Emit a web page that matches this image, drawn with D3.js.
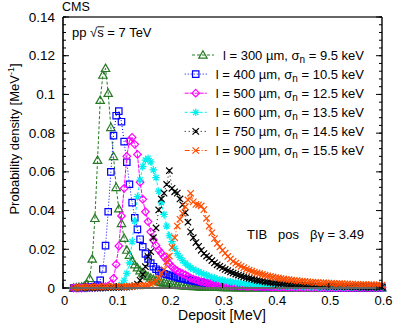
<!DOCTYPE html>
<html>
<head>
<meta charset="utf-8">
<style>
  body { margin: 0; background: #fff; }
  svg { display: block; font-family: "Liberation Sans", Arial, Helvetica, sans-serif; }
</style>
</head>
<body>
<div id="chart"></div>
<script src="https://d3js.org/d3.v7.min.js"></script>
<script>
  // histogram bin centres (MeV): 0.020 ... 0.600, step 0.005
  const deposit = d3.range(117).map(i => +(0.02 + i * 0.005).toFixed(3));

  // probability density [MeV^-1], one value per bin
  const l300 = [
    0, 0.0002, 0.0004, 0.0006, 0.001, 0.002, 0.005, 0.015, 0.036, 0.066,
    0.097, 0.110, 0.1135, 0.1006, 0.083, 0.068, 0.052, 0.041, 0.0334, 0.0257,
    0.0196, 0.017, 0.014, 0.012, 0.0105, 0.009, 0.0078, 0.0068, 0.006, 0.0052,
    0.0045, 0.0038, 0.0033, 0.0029, 0.0026, 0.0023, 0.002, 0.0018, 0.0016, 0.0014,
    0.0013, 0.0012, 0.0011, 0.001, 0.0009, 0.0008, 0.0008, 0.0007, 0.0006, 0.0006,
    0.0005, 0.0005, 0.0005, 0.0004, 0.0004, 0.0004, 0.0003, 0.0003, 0.0003, 0.0003,
    0.0003, 0.0002, 0.0002, 0.0002, 0.0002, 0.0002, 0.0002, 0.0002, 0.0002, 0.0002,
    0.0002, 0.0001, 0.0001, 0.0001, 0.0001, 0.0001, 0.0001, 0.0001, 0.0001, 0.0001,
    0.0001, 0.0001, 0.0001, 0.0001, 0.0001, 0.0001, 0.0001, 0.0001, 0.0001, 0.0001,
    0.0001, 0.0001, 0.0001, 0.0001, 0.0001, 0.0001, 0.0001, 0.0001, 0.0001, 0.0001,
    0.0001, 0.0001, 0.0001, 0.0001, 0.0001, 0.0001, 0.0001, 0.0001, 0.0001, 0.0001,
    0.0001, 0.0001, 0.0001, 0.0001, 0.0001, 0.0001, 0.0001
  ];
  const l400 = [
    0, 0, 0.0001, 0.0001, 0.0002, 0.0003, 0.0004, 0.0005, 0.0008, 0.0015,
    0.004, 0.0098, 0.0219, 0.0394, 0.060, 0.0787, 0.089, 0.0914, 0.0859, 0.0756,
    0.065, 0.0536, 0.0441, 0.0363, 0.0303, 0.0252, 0.0213, 0.0176, 0.015, 0.0129,
    0.011, 0.0097, 0.0088, 0.008, 0.0074, 0.007, 0.0066, 0.0062, 0.0058, 0.0055,
    0.0051, 0.0048, 0.0045, 0.0042, 0.0039, 0.0037, 0.0034, 0.0032, 0.003, 0.0028,
    0.0026, 0.0024, 0.0023, 0.0021, 0.002, 0.0019, 0.0018, 0.0017, 0.0016, 0.0015,
    0.0014, 0.0013, 0.0013, 0.0012, 0.0011, 0.0011, 0.001, 0.001, 0.0009, 0.0009,
    0.0008, 0.0008, 0.0008, 0.0007, 0.0007, 0.0007, 0.0006, 0.0006, 0.0006, 0.0006,
    0.0005, 0.0005, 0.0005, 0.0005, 0.0005, 0.0005, 0.0004, 0.0004, 0.0004, 0.0004,
    0.0004, 0.0004, 0.0004, 0.0004, 0.0003, 0.0003, 0.0003, 0.0003, 0.0003, 0.0003,
    0.0003, 0.0003, 0.0003, 0.0003, 0.0003, 0.0003, 0.0003, 0.0003, 0.0003, 0.0003,
    0.0003, 0.0003, 0.0003, 0.0003, 0.0003, 0.0003, 0.0003
  ];
  const l500 = [
    0, 0, 0, 0, 0.0001, 0.0001, 0.0002, 0.0002, 0.0002, 0.0003,
    0.0004, 0.0005, 0.0007, 0.001, 0.002, 0.005, 0.0122, 0.0217, 0.0372, 0.0515,
    0.068, 0.076, 0.0778, 0.0742, 0.069, 0.0546, 0.0458, 0.0394, 0.0343, 0.029,
    0.0248, 0.022, 0.0196, 0.018, 0.0162, 0.0145, 0.0125, 0.011, 0.0098, 0.0088,
    0.008, 0.0074, 0.0068, 0.006, 0.0052, 0.0047, 0.0042, 0.0038, 0.0033, 0.003,
    0.0028, 0.0026, 0.0024, 0.0022, 0.002, 0.0018, 0.0017, 0.0016, 0.0015, 0.0014,
    0.0013, 0.0012, 0.0011, 0.001, 0.001, 0.0009, 0.0009, 0.0008, 0.0008, 0.0007,
    0.0007, 0.0007, 0.0006, 0.0006, 0.0006, 0.0005, 0.0005, 0.0005, 0.0005, 0.0004,
    0.0004, 0.0004, 0.0004, 0.0004, 0.0003, 0.0003, 0.0003, 0.0003, 0.0003, 0.0003,
    0.0003, 0.0003, 0.0002, 0.0002, 0.0002, 0.0002, 0.0002, 0.0002, 0.0002, 0.0002,
    0.0002, 0.0002, 0.0002, 0.0002, 0.0002, 0.0002, 0.0002, 0.0002, 0.0002, 0.0002,
    0.0002, 0.0002, 0.0002, 0.0002, 0.0002, 0.0002, 0.0002
  ];
  const l600 = [
    0, 0, 0, 0, 0, 0, 0.0001, 0.0001, 0.0001, 0.0002,
    0.0002, 0.0002, 0.0003, 0.0003, 0.0004, 0.0005, 0.0006, 0.001, 0.0018, 0.004,
    0.0076, 0.013, 0.0239, 0.0346, 0.0472, 0.0558, 0.0627, 0.0661, 0.067, 0.0652,
    0.061, 0.057, 0.05, 0.044, 0.038, 0.032, 0.027, 0.024, 0.0205, 0.0178,
    0.0158, 0.0142, 0.0128, 0.0116, 0.0105, 0.0097, 0.009, 0.0083, 0.0077, 0.0071,
    0.0066, 0.006, 0.0055, 0.0051, 0.0047, 0.0043, 0.004, 0.0037, 0.0034, 0.0032,
    0.003, 0.0028, 0.0026, 0.0024, 0.0022, 0.0021, 0.002, 0.0019, 0.0018, 0.0017,
    0.0016, 0.0015, 0.0014, 0.0013, 0.0013, 0.0012, 0.0011, 0.0011, 0.001, 0.001,
    0.0009, 0.0009, 0.0009, 0.0008, 0.0008, 0.0008, 0.0008, 0.0007, 0.0007, 0.0007,
    0.0007, 0.0006, 0.0006, 0.0006, 0.0006, 0.0006, 0.0005, 0.0005, 0.0005, 0.0005,
    0.0005, 0.0005, 0.0005, 0.0004, 0.0004, 0.0004, 0.0004, 0.0004, 0.0004, 0.0004,
    0.0004, 0.0004, 0.0004, 0.0003, 0.0003, 0.0003, 0.0003
  ];
  const l750 = [
    0, 0, 0, 0, 0, 0, 0, 0.0001, 0.0001, 0.0001,
    0.0001, 0.0001, 0.0002, 0.0002, 0.0002, 0.0003, 0.0003, 0.0003, 0.0004, 0.0004,
    0.0005, 0.0006, 0.0008, 0.0012, 0.002, 0.004, 0.007, 0.011, 0.0162, 0.0188,
    0.026, 0.031, 0.0403, 0.046, 0.049, 0.0535, 0.0606, 0.0515, 0.0497, 0.049,
    0.046, 0.043, 0.039, 0.034, 0.029, 0.026, 0.0235, 0.0215, 0.0195, 0.0178,
    0.0165, 0.0155, 0.0142, 0.013, 0.012, 0.0112, 0.0104, 0.0096, 0.009, 0.0083,
    0.0077, 0.0072, 0.0067, 0.0062, 0.0058, 0.0054, 0.005, 0.0047, 0.0043, 0.004,
    0.0037, 0.0035, 0.0032, 0.003, 0.0028, 0.0026, 0.0025, 0.0023, 0.0022, 0.0021,
    0.002, 0.0019, 0.0018, 0.0017, 0.0016, 0.0015, 0.0015, 0.0014, 0.0013, 0.0013,
    0.0012, 0.0012, 0.0011, 0.0011, 0.001, 0.001, 0.0009, 0.0009, 0.0009, 0.0008,
    0.0008, 0.0008, 0.0007, 0.0007, 0.0007, 0.0006, 0.0006, 0.0006, 0.0006, 0.0005,
    0.0005, 0.0005, 0.0005, 0.0005, 0.0005, 0.0005, 0.0005
  ];
  const l900 = [
    0, 0.0002, 0.0003, 0.0004, 0.0005, 0.0005, 0.0006, 0.0006, 0.0005, 0.0006,
    0.0006, 0.0005, 0.0006, 0.0007, 0.0006, 0.0007, 0.0007, 0.0008, 0.0007, 0.0008,
    0.0008, 0.0009, 0.0009, 0.001, 0.001, 0.0011, 0.0012, 0.0012, 0.0015, 0.002,
    0.0027, 0.0035, 0.005, 0.0075, 0.0095, 0.0136, 0.0165, 0.021, 0.026, 0.032,
    0.0355, 0.0386, 0.042, 0.0455, 0.0489, 0.0445, 0.0432, 0.043, 0.0424, 0.0405,
    0.036, 0.032, 0.0285, 0.0255, 0.023, 0.0212, 0.0195, 0.018, 0.0163, 0.015,
    0.0138, 0.0128, 0.012, 0.0112, 0.0105, 0.0098, 0.0092, 0.0087, 0.0082, 0.0078,
    0.0074, 0.007, 0.0066, 0.0063, 0.006, 0.0057, 0.0054, 0.0052, 0.0049, 0.0047,
    0.0045, 0.0043, 0.0041, 0.004, 0.0038, 0.0036, 0.0035, 0.0034, 0.0032, 0.0031,
    0.003, 0.0029, 0.0028, 0.0027, 0.0027, 0.0026, 0.0025, 0.0024, 0.0024, 0.0023,
    0.0022, 0.0022, 0.0021, 0.0021, 0.002, 0.002, 0.0019, 0.0019, 0.0018, 0.0018,
    0.0018, 0.0017, 0.0017, 0.0016, 0.0016, 0.0016, 0.0015
  ];

  const thickness = ["300", "400", "500", "600", "750", "900"];
  const sigmaNoise = ["9.5", "10.5", "12.5", "13.5", "14.5", "15.5"];
  const xTicks = [0, 0.1, 0.2, 0.3, 0.4, 0.5, 0.6];
  const yTicks = [0, 0.02, 0.04, 0.06, 0.08, 0.1, 0.12, 0.14];

  const series = [
    { values: l300, color: "#267a26", dash: "3,2", marker: "tri" },
    { values: l400, color: "#0000ff", dash: "1,2", marker: "square" },
    { values: l500, color: "#ff00ff", dash: "4,1", marker: "diamond" },
    { values: l600, color: "#00f0f0", dash: "3,2", marker: "star" },
    { values: l750, color: "#000000", dash: "1,3", marker: "cross2" },
    { values: l900, color: "#ff4d00", dash: "5,2,1,2", marker: "cross" }
  ];

  const markerPath = {
    tri: "M0,-4.2L4.2,3.2L-4.2,3.2Z",
    square: "M-3.2,-3.2H3.2V3.2H-3.2Z",
    diamond: "M0,-3.8L3.8,0L0,3.8L-3.8,0Z",
    star: "M-3.8,0H3.8M0,-3.8V3.8M-2.7,-2.7L2.7,2.7M-2.7,2.7L2.7,-2.7",
    cross2: "M-3.2,-3.2L3.2,3.2M-3.2,3.2L3.2,-3.2M0,-1.6V1.6",
    cross: "M-3.2,-3.2L3.2,3.2M-3.2,3.2L3.2,-3.2"
  };

  const W = 407, H = 326;
  const x = d3.scaleLinear().domain([0, 0.6]).range([63, 382]);
  const y = d3.scaleLinear().domain([0, 0.14]).range([288, 17]);

  const svg = d3.select("#chart").append("svg")
    .attr("width", W).attr("height", H);

  // curves
  const line = d3.line().x(d => x(d[0])).y(d => y(d[1]));
  series.forEach(s => {
    const pts = deposit.map((d, i) => [d, s.values[i]]);
    const g = svg.append("g");
    g.append("path")
      .datum(pts)
      .attr("fill", "none")
      .attr("stroke", s.color)
      .attr("stroke-width", 1)
      .attr("stroke-dasharray", s.dash)
      .attr("d", line);
    g.selectAll("path.m").data(pts).join("path")
      .attr("class", "m")
      .attr("transform", d => `translate(${x(d[0])},${y(d[1])})`)
      .attr("d", markerPath[s.marker])
      .attr("fill", "none")
      .attr("stroke", s.color)
      .attr("stroke-width", 1.2);
  });

  // frame
  svg.append("line").attr("x1", 63).attr("x2", 382).attr("y1", 17).attr("y2", 17)
    .attr("stroke", "#666").attr("stroke-width", 2);
  svg.append("line").attr("x1", 63).attr("x2", 382).attr("y1", 288).attr("y2", 288)
    .attr("stroke", "#666").attr("stroke-width", 2);
  svg.append("line").attr("x1", 63).attr("x2", 63).attr("y1", 17).attr("y2", 289)
    .attr("stroke", "#000").attr("stroke-width", 1.6);
  svg.append("line").attr("x1", 382).attr("x2", 382).attr("y1", 17).attr("y2", 289)
    .attr("stroke", "#000").attr("stroke-width", 1.4);

  // ticks
  const yMinor = d3.range(0, 0.1401, 0.004);
  [63, 382].forEach(x0 => {
    const dir = x0 === 63 ? 1 : -1;
    svg.append("g").selectAll("line").data(yMinor).join("line")
      .attr("x1", x0).attr("x2", x0 + dir * 3)
      .attr("y1", d => y(d)).attr("y2", d => y(d))
      .attr("stroke", "#000").attr("stroke-width", 1);
    svg.append("g").selectAll("line").data(yTicks).join("line")
      .attr("x1", x0).attr("x2", x0 + dir * 6)
      .attr("y1", d => y(d)).attr("y2", d => y(d))
      .attr("stroke", "#000").attr("stroke-width", 1);
  });
  svg.append("g").selectAll("line").data(xTicks).join("line")
    .attr("x1", d => x(d)).attr("x2", d => x(d))
    .attr("y1", 288).attr("y2", 283)
    .attr("stroke", "#000").attr("stroke-width", 1);

  // tick labels
  svg.append("g").selectAll("text").data(yTicks).join("text")
    .attr("x", 55).attr("y", d => y(d) + 4.5)
    .attr("text-anchor", "end").attr("font-size", 13.5)
    .text(d => d === 0 ? "0" : String(d));
  svg.append("g").selectAll("text").data(xTicks).join("text")
    .attr("x", d => x(d) + 1.5).attr("y", 304.5)
    .attr("text-anchor", "middle").attr("font-size", 13)
    .text(d => d === 0 ? "0" : String(d));

  // axis titles
  svg.append("text").attr("x", 222).attr("y", 320)
    .attr("text-anchor", "middle").attr("font-size", 14)
    .text("Deposit [MeV]");
  const yl = svg.append("text")
    .attr("transform", "translate(19,139) rotate(-90)")
    .attr("text-anchor", "middle").attr("font-size", 13);
  yl.append("tspan").text("Probability density [MeV");
  yl.append("tspan").attr("dy", -5).attr("font-size", 9).text("-1");
  yl.append("tspan").attr("dy", 5).text("]");

  // annotations
  svg.append("text").attr("x", 62).attr("y", 10.5).attr("font-size", 12.5).text("CMS");
  const pp = svg.append("text").attr("x", 72).attr("y", 37).attr("font-size", 13)
    .text("pp \u221As = 7 TeV");
  const sA = pp.node().getStartPositionOfChar(4), sB = pp.node().getEndPositionOfChar(4);
  svg.append("line").attr("x1", sA.x).attr("x2", sB.x + 0.5)
    .attr("y1", 26.8).attr("y2", 26.8).attr("stroke", "#000").attr("stroke-width", 0.9);
  svg.append("text").attr("x", 364).attr("y", 238.5).attr("font-size", 13)
    .attr("text-anchor", "end").attr("xml:space", "preserve")
    .text("TIB   pos   \u03B2\u03B3 = 3.49");

  // legend
  series.forEach((s, i) => {
    const cy = 55 + i * 19.1;
    const t = svg.append("text").attr("x", 364).attr("y", cy + 4.5)
      .attr("text-anchor", "end").attr("font-size", 13);
    t.append("tspan").text(`l = ${thickness[i]} \u00B5m, \u03C3`);
    t.append("tspan").attr("dy", 3).attr("font-size", 10).text("n");
    t.append("tspan").attr("dy", -3).text(` = ${sigmaNoise[i]} keV`);
    const x0 = 364 - t.node().getComputedTextLength();
    svg.append("line").attr("x1", x0 - 31).attr("x2", x0 - 9)
      .attr("y1", cy).attr("y2", cy)
      .attr("stroke", s.color).attr("stroke-dasharray", s.dash);
    svg.append("path").attr("transform", `translate(${x0 - 20},${cy})`)
      .attr("d", markerPath[s.marker])
      .attr("fill", "none").attr("stroke", s.color).attr("stroke-width", 1.2);
  });
</script>
</body>
</html>
